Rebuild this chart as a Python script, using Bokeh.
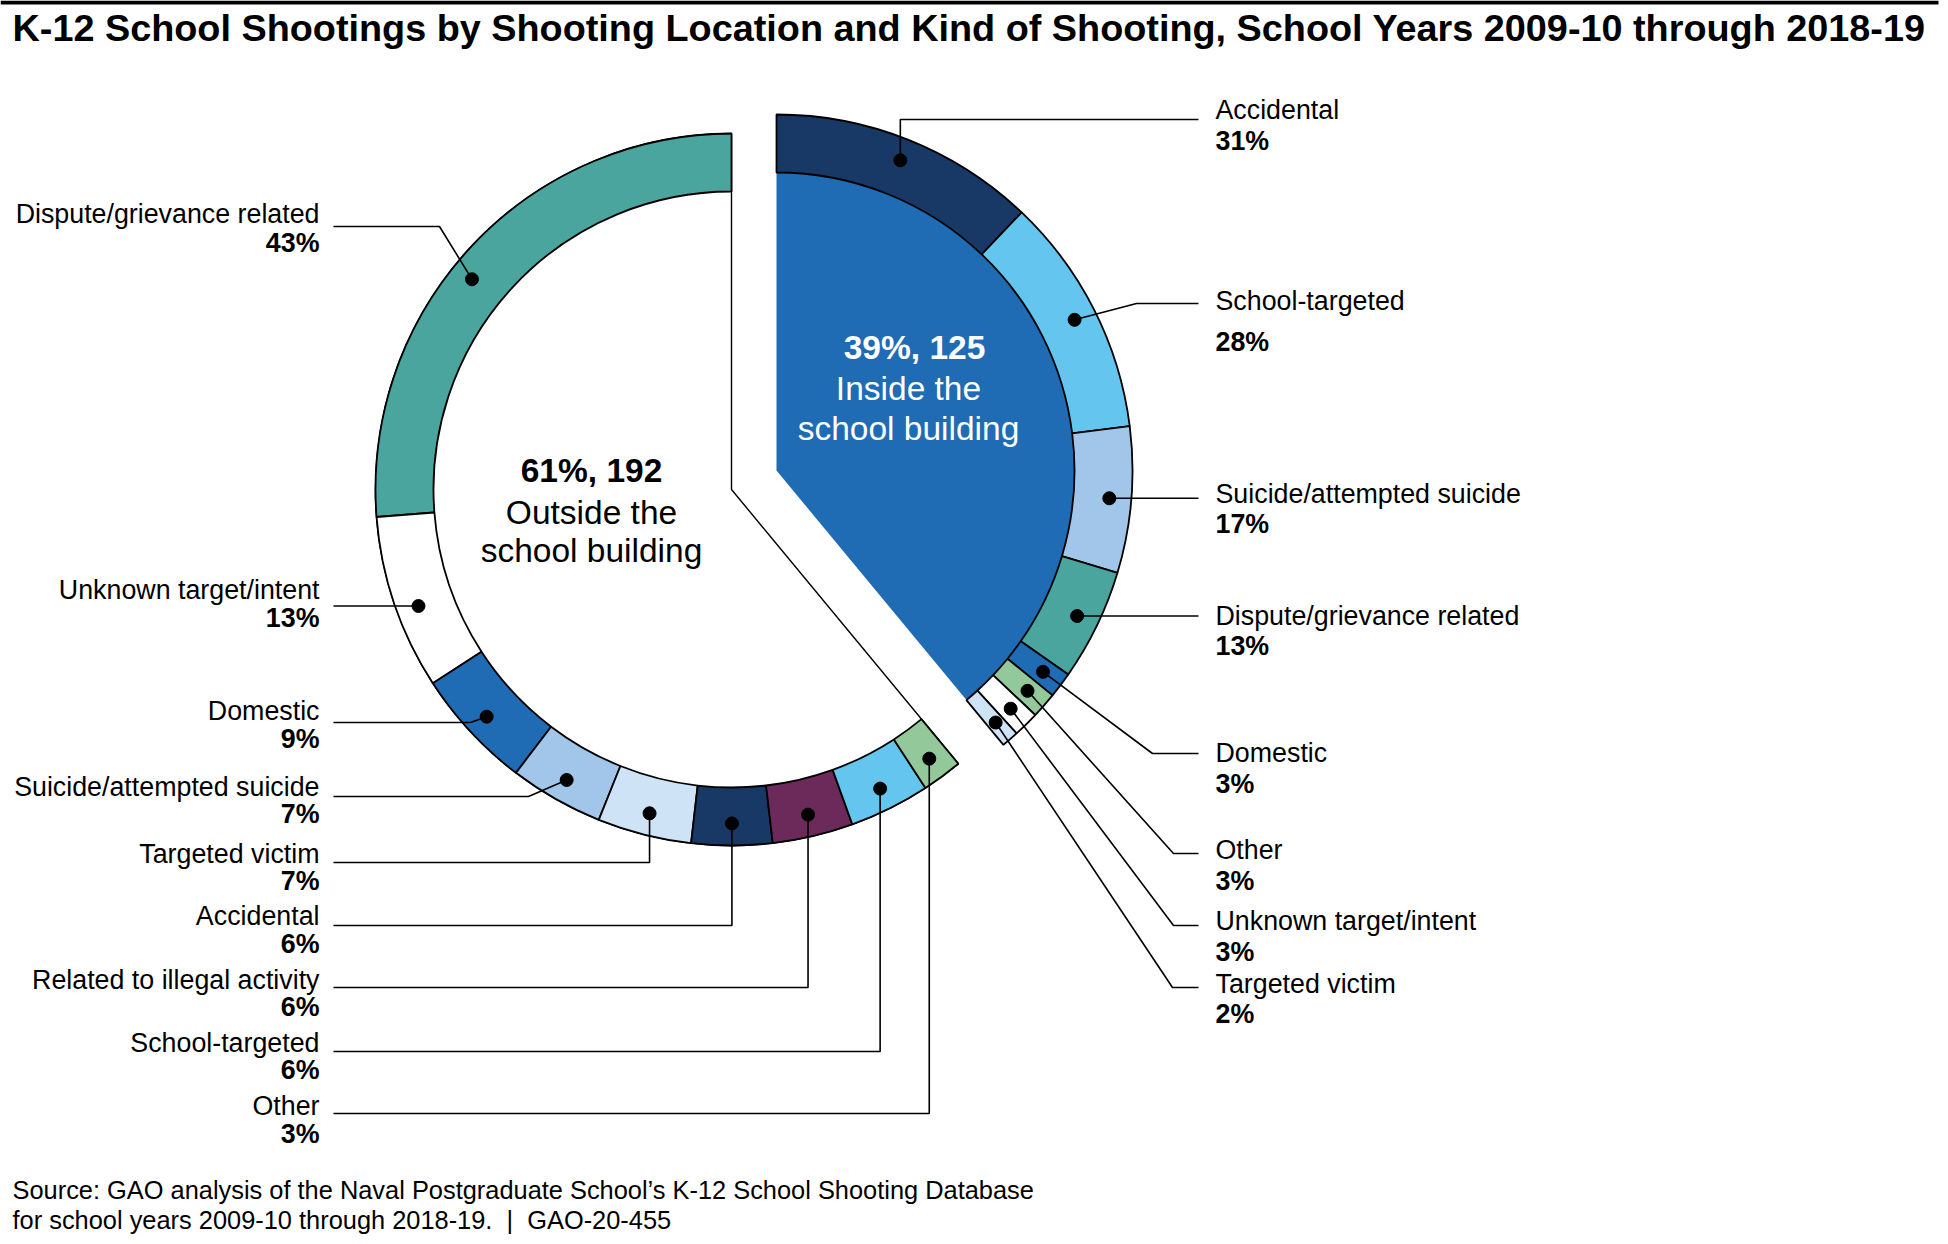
import numpy as np
from bokeh.plotting import figure
from bokeh.models import Range1d, ColumnDataSource
from bokeh.core.properties import value
from bokeh.embed import file_html
from bokeh.resources import INLINE

# ---------------- data ----------------
location_names = ["Outside the school building", "Inside the school building"]
location_pct = [61, 39]
location_counts = [192, 125]

outside_kinds = ["Dispute/grievance related", "Unknown target/intent", "Domestic",
                 "Suicide/attempted suicide", "Targeted victim", "Accidental",
                 "Related to illegal activity", "School-targeted", "Other"]
outside_pct = [43, 13, 9, 7, 7, 6, 6, 6, 3]

inside_kinds = ["Accidental", "School-targeted", "Suicide/attempted suicide",
                "Dispute/grievance related", "Domestic", "Other",
                "Unknown target/intent", "Targeted victim"]
inside_pct = [31, 28, 17, 13, 3, 3, 3, 2]

title_text = ("K-12 School Shootings by Shooting Location and Kind of Shooting, "
              "School Years 2009-10 through 2018-19")
source_lines = ["Source: GAO analysis of the Naval Postgraduate School\u2019s K-12 School Shooting Database",
                "for school years 2009-10 through 2018-19. \u00a0|\u00a0 GAO-20-455"]

# ---------------- styles ----------------
kind_colors = {
    "Dispute/grievance related": "#4ba59f",
    "Unknown target/intent": "#ffffff",
    "Domestic": "#1f6bb4",
    "Suicide/attempted suicide": "#a1c6e9",
    "Targeted victim": "#cee4f6",
    "Accidental": "#183865",
    "Related to illegal activity": "#6c2a5b",
    "School-targeted": "#64c5ee",
    "Other": "#93c89b",
}
inside_fill = "#1f6bb4"
FONT = value("Liberation Sans")
LBL = "26.8px"

# ---------------- layout (page pixels, y down) ----------------
PW, PH = 1948, 1244

def Y(y):
    return PH - y

LEFT_C = (731, 489)
RIGHT_C = (776, 470)
R_IN, R_OUT, R_DOT = 298, 356, 334

# label layout: first-line centre y, second-line centre y, leader y, elbow
# elbow: number -> bend at that x, "v" -> bend below/above the dot, None -> straight
left_layout = {
    "Dispute/grievance related": (213, 242, 226, 439),
    "Unknown target/intent": (589, 617, None, None),
    "Domestic": (710, 738, 722, 470),
    "Suicide/attempted suicide": (786, 813, 796, 528),
    "Targeted victim": (853, 880, 862, "v"),
    "Accidental": (915, 943, 925, "v"),
    "Related to illegal activity": (979, 1006, 987, "v"),
    "School-targeted": (1042, 1069, 1051, "v"),
    "Other": (1105, 1133, 1113, "v"),
}
left_dot_frac = {"Dispute/grievance related": 0.54, "Unknown target/intent": 0.56}
right_layout = {
    "Accidental": (109, 140, 119, "v"),
    "School-targeted": (300, 341, 303, 1136),
    "Suicide/attempted suicide": (493, 523, None, None),
    "Dispute/grievance related": (615, 645, None, None),
    "Domestic": (752, 783, 753, 1152),
    "Other": (849, 880, 853, 1173),
    "Unknown target/intent": (920, 951, 925, 1173),
    "Targeted victim": (983, 1013, 987, 1172),
}
LEFT_TEXT_X, LEFT_LINE_X = 319, 333
RIGHT_TEXT_X, RIGHT_LINE_X = 1215, 1198

p = figure(width=PW, height=PH, x_range=Range1d(0, PW), y_range=Range1d(0, PH),
           output_backend="svg", toolbar_location=None, min_border=0,
           background_fill_color="white", border_fill_color="white")
p.outline_line_color = None
p.axis.visible = False
p.grid.visible = False

total = sum(location_pct)
left_span = 360.0 * location_pct[0] / total
right_span = 360.0 * location_pct[1] / total

# ---- left (outside) pie ----
lcx, lcy = LEFT_C
p.wedge(x=lcx, y=Y(lcy), radius=R_OUT, start_angle=np.radians(90),
        end_angle=np.radians(90 + left_span), direction="anticlock",
        fill_color="white", line_color="black", line_width=1.4)

o_frac = np.array(outside_pct, float) / sum(outside_pct)
o_cum = np.concatenate([[0], np.cumsum(o_frac)])
o_start = 90 + o_cum[:-1] * left_span
o_end = 90 + o_cum[1:] * left_span
src_o = ColumnDataSource(dict(
    x=[lcx] * len(outside_kinds), y=[Y(lcy)] * len(outside_kinds),
    s=np.radians(o_start), e=np.radians(o_end),
    c=[kind_colors[k] for k in outside_kinds]))
p.annular_wedge(x="x", y="y", inner_radius=R_IN, outer_radius=R_OUT,
                start_angle="s", end_angle="e", direction="anticlock",
                fill_color="c", line_color="black", line_width=1.8, source=src_o)

# ---- right (inside) pie ----
rcx, rcy = RIGHT_C
p.wedge(x=rcx, y=Y(rcy), radius=R_IN, start_angle=np.radians(90 - right_span),
        end_angle=np.radians(90), direction="anticlock",
        fill_color=inside_fill, line_color=None)

i_frac = np.array(inside_pct, float) / sum(inside_pct)
i_cum = np.concatenate([[0], np.cumsum(i_frac)])
i_hi = 90 - i_cum[:-1] * right_span
i_lo = 90 - i_cum[1:] * right_span
src_i = ColumnDataSource(dict(
    x=[rcx] * len(inside_kinds), y=[Y(rcy)] * len(inside_kinds),
    s=np.radians(i_lo), e=np.radians(i_hi),
    c=[kind_colors[k] for k in inside_kinds]))
p.annular_wedge(x="x", y="y", inner_radius=R_IN, outer_radius=R_OUT,
                start_angle="s", end_angle="e", direction="anticlock",
                fill_color="c", line_color="black", line_width=1.8, source=src_i)

# ---- leaders, dots and labels ----
xs, ys, dx, dy = [], [], [], []
ln_x, ln_y, ln_t, pc_x, pc_y, pc_t = [], [], [], [], [], []
rn_x, rn_y, rn_t, rp_x, rp_y, rp_t = [], [], [], [], [], []

for k, pct, a0, a1 in zip(outside_kinds, outside_pct, o_start, o_end):
    f = left_dot_frac.get(k, 0.5)
    a = a0 + f * (a1 - a0)
    px = lcx + R_DOT * np.cos(np.radians(a))
    py = lcy - R_DOT * np.sin(np.radians(a))
    y1, y2, ly, el = left_layout[k]
    if ly is None:
        pts = [(LEFT_LINE_X, py), (px, py)]
    elif el == "v":
        pts = [(LEFT_LINE_X, ly), (px, ly), (px, py)]
    else:
        pts = [(LEFT_LINE_X, ly), (el, ly), (px, py)]
    xs.append([q[0] for q in pts]); ys.append([Y(q[1]) for q in pts])
    dx.append(px); dy.append(Y(py))
    ln_x.append(LEFT_TEXT_X); ln_y.append(Y(y1)); ln_t.append(k)
    pc_x.append(LEFT_TEXT_X); pc_y.append(Y(y2)); pc_t.append(f"{pct}%")

for k, pct, a0, a1 in zip(inside_kinds, inside_pct, i_hi, i_lo):
    a = (a0 + a1) / 2
    px = rcx + R_DOT * np.cos(np.radians(a))
    py = rcy - R_DOT * np.sin(np.radians(a))
    y1, y2, ly, el = right_layout[k]
    if ly is None:
        pts = [(px, py), (RIGHT_LINE_X, py)]
    elif el == "v":
        pts = [(px, py), (px, ly), (RIGHT_LINE_X, ly)]
    else:
        pts = [(px, py), (el, ly), (RIGHT_LINE_X, ly)]
    xs.append([q[0] for q in pts]); ys.append([Y(q[1]) for q in pts])
    dx.append(px); dy.append(Y(py))
    rn_x.append(RIGHT_TEXT_X); rn_y.append(Y(y1)); rn_t.append(k)
    rp_x.append(RIGHT_TEXT_X); rp_y.append(Y(y2)); rp_t.append(f"{pct}%")

p.multi_line(xs=xs, ys=ys, line_color="black", line_width=1.6)
p.scatter(x=dx, y=dy, size=13, marker="circle", fill_color="black", line_color="black")

def txt(x, y, t, align, size, bold=False, color="black"):
    p.text(x=x, y=y, text=t, text_align=align, text_baseline="alphabetic",
           text_font=FONT, text_font_size=value(size),
           text_font_style="bold" if bold else "normal", text_color=color)

txt(ln_x, ln_y, ln_t, "right", LBL)
txt(pc_x, pc_y, pc_t, "right", LBL, bold=True)
txt(rn_x, rn_y, rn_t, "left", LBL)
txt(rp_x, rp_y, rp_t, "left", LBL, bold=True)

# centre texts
out_line1 = f"{location_pct[0]}%, {location_counts[0]}"
in_line1 = f"{location_pct[1]}%, {location_counts[1]}"
txt([591], [Y(470)], [out_line1], "center", "33.5px", bold=True)
txt([591, 591], [Y(512), Y(550)], ["Outside the", "school building"], "center", "33.5px")
txt([914], [Y(347)], [in_line1], "center", "33.5px", bold=True, color="white")
txt([908, 908], [Y(388), Y(428)], ["Inside the", "school building"], "center", "33.5px", color="white")

# title, rule, source
p.quad(left=[0], right=[1938], top=[Y(0)], bottom=[Y(4)], fill_color="black", line_color=None)
txt([12], [Y(27)], [title_text], "left", "37.8px", bold=True)
txt([12, 12], [Y(1189), Y(1219)], source_lines, "left", "25.4px")

open("out.html", "w").write(file_html(p, INLINE))
